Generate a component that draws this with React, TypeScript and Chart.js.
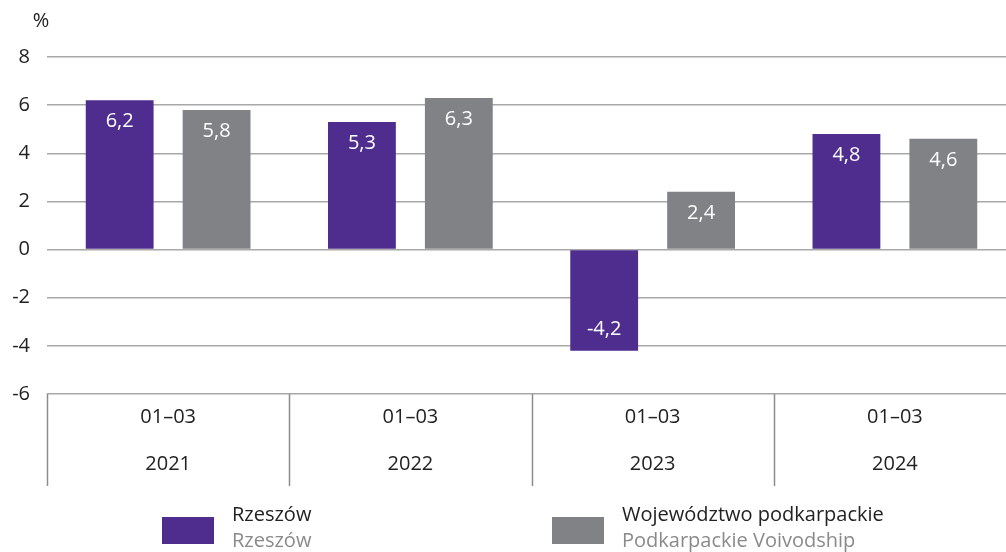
import React, { useEffect, useRef } from "react";
import { Chart, registerables } from "chart.js";

Chart.register(...registerables);

const categories: string[][] = [
  ["01–03", "2021"],
  ["01–03", "2022"],
  ["01–03", "2023"],
  ["01–03", "2024"],
];
const rzeszow: number[] = [6.2, 5.3, -4.2, 4.8];
const podkarpackie: number[] = [5.8, 6.3, 2.4, 4.6];
const yTicks: number[] = [-6, -4, -2, 0, 2, 4, 6, 8];
const legendTitles: string[] = ["Rzeszów", "Województwo podkarpackie"];
const legendSubtitles: string[] = ["Rzeszów", "Podkarpackie Voivodship"];

const PURPLE = "#4f2d8f";
const GRAY = "#808285";
const FONT = "'Open Sans', 'Noto Sans', sans-serif";
const FS = 20;
const TEXT = "#222222";
const GRID = "#a8a8a8";

const extrasPlugin = {
  id: "extras",
  afterDatasetsDraw(chart: any) {
    const ctx = chart.ctx;
    ctx.save();
    ctx.font = `${FS}px ${FONT}`;
    ctx.fillStyle = "#ffffff";
    ctx.textAlign = "center";
    ctx.textBaseline = "middle";
    chart.data.datasets.forEach((ds: any, di: number) => {
      const meta = chart.getDatasetMeta(di);
      meta.data.forEach((bar: any, i: number) => {
        const v = ds.data[i] as number;
        const label = String(v).replace(".", ",");
        const y = v >= 0 ? bar.y + 21 : bar.y - 21;
        ctx.fillText(label, bar.x, y);
      });
    });
    ctx.restore();
  },
  afterDraw(chart: any) {
    const ctx = chart.ctx;
    const area = chart.chartArea;
    const xs = chart.scales.x;
    ctx.save();
    // category dividers
    ctx.strokeStyle = "#8c8c8c";
    ctx.lineWidth = 1.5;
    const n = categories.length;
    const w = (xs.right - xs.left) / n;
    for (let i = 0; i < n; i++) {
      const x = Math.round(xs.left + i * w) + 0.5;
      ctx.beginPath();
      ctx.moveTo(x, area.bottom);
      ctx.lineTo(x, area.bottom + 92);
      ctx.stroke();
    }
    // unit label
    ctx.fillStyle = TEXT;
    ctx.font = `${FS}px ${FONT}`;
    ctx.textAlign = "center";
    ctx.textBaseline = "middle";
    ctx.fillText("%", area.left - 6, 21);
    // legend
    const colors = [PURPLE, GRAY];
    const lx = [162, 552];
    for (let i = 0; i < 2; i++) {
      ctx.fillStyle = colors[i];
      ctx.fillRect(lx[i], 517, 52, 27);
      ctx.textAlign = "left";
      ctx.fillStyle = TEXT;
      ctx.fillText(legendTitles[i], lx[i] + 70, 515);
      ctx.fillStyle = "#8a8a8a";
      ctx.fillText(legendSubtitles[i], lx[i] + 70, 541);
    }
    ctx.restore();
  },
};

export default function App() {
  const ref = useRef<HTMLCanvasElement>(null);
  useEffect(() => {
    if (!ref.current) return;
    const chart = new Chart(ref.current, {
      type: "bar",
      data: {
        labels: categories,
        datasets: [
          {
            label: legendTitles[0],
            data: rzeszow,
            backgroundColor: PURPLE,
            categoryPercentage: 0.8,
            barPercentage: 0.7,
          },
          {
            label: legendTitles[1],
            data: podkarpackie,
            backgroundColor: GRAY,
            categoryPercentage: 0.8,
            barPercentage: 0.7,
          },
        ],
      },
      options: {
        responsive: false,
        animation: false,
        layout: { padding: { top: 57, bottom: 66, left: 0, right: 0 } },
        plugins: { legend: { display: false }, tooltip: { enabled: false } },
        scales: {
          x: {
            grid: { display: false, drawTicks: false },
            border: { display: false },
            ticks: {
              color: TEXT,
              font: { family: FONT, size: FS, lineHeight: 47 / FS },
              padding: 0,
              maxRotation: 0,
              autoSkip: false,
            },
            afterFit(scale: any) {
              scale.height = 92;
            },
          },
          y: {
            min: -6,
            max: 8,
            afterBuildTicks(scale: any) {
              scale.ticks = yTicks.map((v) => ({ value: v }));
            },
            grid: { color: GRID, lineWidth: 1.5, drawTicks: false },
            border: { display: false },
            ticks: {
              color: TEXT,
              font: { family: FONT, size: FS },
              padding: 17,
              callback: (v: any) => String(v),
            },
            afterFit(scale: any) {
              scale.width = 47;
            },
          },
        },
      },
      plugins: [extrasPlugin],
    });
    return () => chart.destroy();
  }, []);
  return (
    <div
      style={{
        position: "fixed",
        left: 0,
        top: 0,
        width: 1006,
        height: 552,
        overflow: "hidden",
        background: "#fff",
      }}
    >
      <canvas ref={ref} width={1016} height={552} style={{ width: 1016, height: 552, display: "block" }} />
    </div>
  );
}
